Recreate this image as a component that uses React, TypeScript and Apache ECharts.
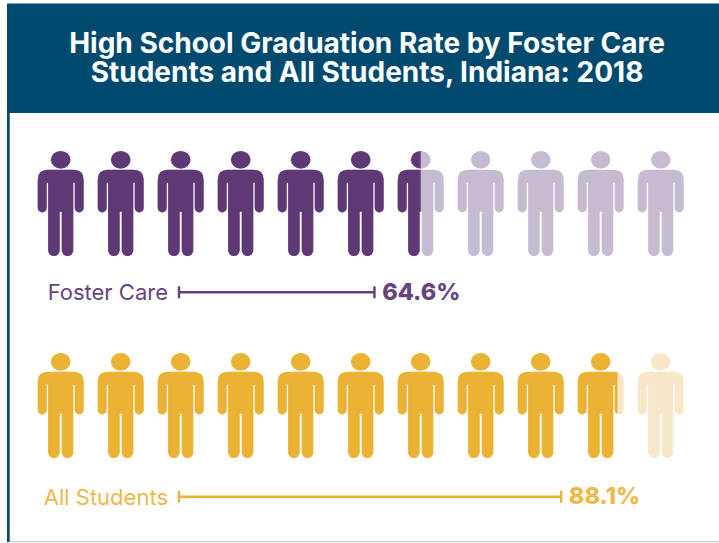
import React, { useEffect, useRef } from "react";
import * as echarts from "echarts";

const titleLines = ["High School Graduation Rate by Foster Care", "Students and All Students, Indiana: 2018"];
const groups = ["Foster Care", "All Students"];
const rates = [64.6, 88.1];
const filledFigures = [6.5, 9.78];
const totalFigures = 11;
const rateAxisMin = 40;
const rateAxisMax = 100;

const solidColors = ["#5f3976", "#ebb233"];
const paleColors = ["#c6bbd0", "#f8e8c9"];
const lineColors = ["#63417c", "#ebb233"];
const textColors = ["#66457f", "#eeb84a"];

// Standing figure: head plus body with separated arms and legs, 46 x 105 units.
const figurePath =
  "path://M13.2 9A9.8 8.8 0 1 1 32.8 9A9.8 8.8 0 1 1 13.2 9Z" +
  "M10 19H36Q46 19 46 29V57A4.5 4.5 0 0 1 37 57V32H35.6V99.2A5.8 5.8 0 0 1 24 99.2V60.7H22V99.2" +
  "A5.8 5.8 0 0 1 10.4 99.2V32H9V57A4.5 4.5 0 0 1 0 57V29Q0 19 10 19Z";

const FONT = "Inter, 'Open Sans', sans-serif";
const rowTops = [151, 353];

export default function App() {
  const ref = useRef<HTMLDivElement>(null);

  useEffect(() => {
    const chart = echarts.init(ref.current!, undefined, { renderer: "svg" });

    const figureGrids = rowTops.map((top) => ({ left: 30.7, width: 660, top, height: 105 }));
    const rateGrid = { left: 179, width: 476.7, top: 292.3, height: 204.4 };

    const figureSeries = groups.flatMap((name, i) => {
      const shared = {
        type: "pictorialBar",
        xAxisIndex: i,
        yAxisIndex: i,
        symbol: figurePath,
        symbolSize: [46, 105],
        symbolRepeat: "fixed",
        symbolMargin: "7!",
        symbolBoundingData: totalFigures,
        symbolKeepAspect: false,
        barWidth: 105,
        silent: true,
      };
      return [
        { ...shared, name: `${name} total`, data: [totalFigures], itemStyle: { color: paleColors[i] }, z: 2 },
        { ...shared, name, data: [filledFigures[i]], symbolClip: true, itemStyle: { color: solidColors[i] }, z: 3 },
      ];
    });

    const rateSeries = groups.map((name, i) => ({
      type: "line",
      name: `${name} rate`,
      xAxisIndex: 2,
      yAxisIndex: 2,
      symbol: "rect",
      symbolSize: [2.4, 12],
      showSymbol: true,
      silent: true,
      lineStyle: { color: lineColors[i], width: 2.6 },
      itemStyle: { color: lineColors[i] },
      data: [
        { value: [rateAxisMin, name], label: { show: false } },
        {
          value: [rates[i], name],
          label: {
            show: true,
            position: "right",
            distance: 6,
            offset: [0.5, -1],
            formatter: `${rates[i]}%`,
            color: textColors[i],
            fontFamily: FONT,
            fontWeight: 800,
            fontSize: 23.5,
          },
        },
      ],
    }));

    chart.setOption({
      animation: false,
      backgroundColor: "#ffffff",
      title: {
        text: titleLines.join("\n"),
        left: 362,
        top: 23.5,
        textAlign: "center",
        textStyle: {
          color: "#ffffff",
          fontFamily: FONT,
          fontWeight: 700,
          fontSize: 28,
          lineHeight: 29,
        },
      },
      graphic: [
        { type: "rect", z: -10, shape: { x: 7, y: 3.5, width: 712, height: 109.5 }, style: { fill: "#004a6f" } },
        { type: "rect", z: -10, shape: { x: 7, y: 113, width: 2.7, height: 429 }, style: { fill: "#004a6f" } },
        { type: "rect", z: -10, shape: { x: 9.7, y: 541, width: 709.3, height: 1.2 }, style: { fill: "#c3d4e0" } },
      ],
      grid: [...figureGrids, rateGrid],
      xAxis: [
        ...rowTops.map((_, i) => ({
          type: "value",
          gridIndex: i,
          min: 0,
          max: totalFigures,
          show: false,
        })),
        { type: "value", gridIndex: 2, min: rateAxisMin, max: rateAxisMax, show: false },
      ],
      yAxis: [
        ...groups.map((name, i) => ({
          type: "category",
          gridIndex: i,
          data: [name],
          show: false,
        })),
        {
          type: "category",
          gridIndex: 2,
          data: groups,
          inverse: true,
          boundaryGap: false,
          axisLine: { show: false },
          axisTick: { show: false },
          splitLine: { show: false },
          axisLabel: {
            margin: 11,
            fontFamily: FONT,
            fontSize: 22,
            padding: [0, 0, 2, 0],
            color: (v: string) => textColors[groups.indexOf(v)],
          },
        },
      ],
      series: [...figureSeries, ...rateSeries],
    });

    return () => chart.dispose();
  }, []);

  return <div ref={ref} style={{ position: "fixed", left: 0, top: 0, width: 719, height: 543 }} />;
}
